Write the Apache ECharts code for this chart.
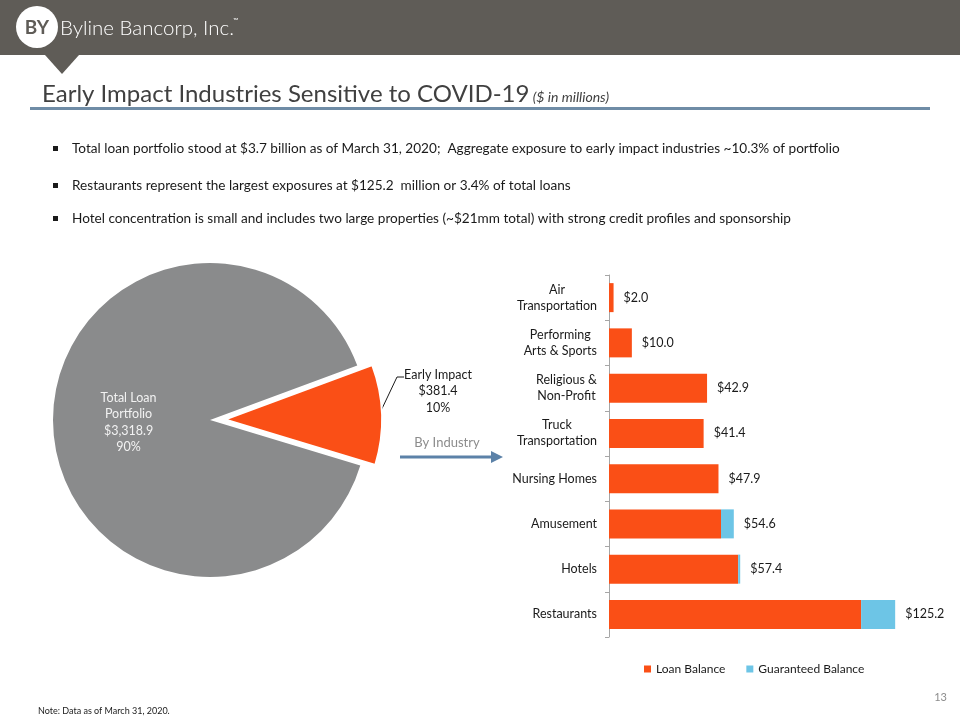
<!DOCTYPE html>
<html>
<head>
<meta charset="utf-8">
<script src="https://cdn.jsdelivr.net/npm/echarts@6/dist/echarts.min.js"></script>
<style>
html,body{margin:0;padding:0;background:#fff;}
#chart{width:960px;height:720px;}
</style>
</head>
<body>
<div id="chart"></div>
<script>
// ---- data ----
const pieNames = ['Early Impact', 'Total Loan Portfolio'];
const pieValues = [381.4, 3318.9];
const pieLabels = ['Early Impact\n$381.4\n10%', 'Total Loan\nPortfolio\n$3,318.9\n90%'];

const categories = ['Air\nTransportation', 'Performing\nArts & Sports', 'Religious &\nNon-Profit',
  'Truck\nTransportation', 'Nursing Homes', 'Amusement', 'Hotels', 'Restaurants'];
const loanBalance = [2.0, 10.0, 42.9, 41.4, 47.9, 49.0, 56.5, 110.3];
const guaranteedBalance = [0, 0, 0, 0, 0, 5.6, 0.9, 14.9];

const bullets = [
  'Total loan portfolio stood at $3.7 billion as of March 31, 2020;  Aggregate exposure to early impact industries ~10.3% of portfolio',
  'Restaurants represent the largest exposures at $125.2  million or 3.4% of total loans',
  'Hotel concentration is small and includes two large properties (~$21mm total) with strong credit profiles and sponsorship'
];

const ORANGE = '#FA4F16';
const BLUE = '#6DC5E6';
const GRAY = '#8A8B8C';
const HEADER = '#5F5C57';
const FONT = 'Lato, "Open Sans", sans-serif';

const chart = echarts.init(document.getElementById('chart'));

const bulletY = [149, 186, 219];
const graphics = [
  {type:'rect', shape:{x:0,y:0,width:960,height:55}, style:{fill:HEADER}},
  {type:'polygon', shape:{points:[[45,55],[79,55],[62,74]]}, style:{fill:HEADER}},
  {type:'circle', shape:{cx:37,cy:27,r:21}, style:{fill:'#fff'}},
  {type:'text', x:37, y:28, style:{text:'BY', fill:HEADER, font:'bold 19px ' + FONT, align:'center', verticalAlign:'middle'}},
  {type:'text', x:60, y:28, style:{text:'Byline Bancorp, Inc.', fill:'#fff', font:'300 20.5px ' + FONT, align:'left', verticalAlign:'middle'}},
  {type:'text', x:233, y:21, style:{text:'™', fill:'#fff', font:'7px ' + FONT, align:'left', verticalAlign:'middle'}},
  {type:'text', x:42, y:94, style:{
    text:'{a|Early Impact Industries Sensitive to COVID-19} {b|($ in millions)}',
    verticalAlign:'middle', align:'left',
    rich:{a:{fontFamily:FONT, fontSize:24, fill:'#404040', verticalAlign:'bottom'},
          b:{fontFamily:FONT, fontSize:14, fontStyle:'italic', fill:'#404040', verticalAlign:'bottom', padding:[0,0,2,0]}}}},
  {type:'rect', shape:{x:30,y:107,width:900,height:3}, style:{fill:'#6F8CA6'}},
  {type:'text', x:447, y:443, style:{text:'By Industry', fill:'#8C8C8C', font:'13px ' + FONT, align:'center', verticalAlign:'middle'}},
  {type:'polyline', shape:{points:[[400,457],[494,457]]}, style:{stroke:'#5C82A8', lineWidth:3}},
  {type:'polygon', shape:{points:[[491,451],[503,457],[491,463]]}, style:{fill:'#5C82A8'}},
  {type:'polyline', shape:{points:[[379,415],[397,377],[404,377]]}, style:{stroke:'#1a1a1a', lineWidth:1, fill:null}},
  {type:'text', x:438, y:391, style:{text:pieLabels[0], fill:'#1a1a1a', font:'12.5px ' + FONT, lineHeight:16.5, align:'center', verticalAlign:'middle'}},
  {type:'text', x:38, y:711, style:{text:'Note: Data as of March 31, 2020.', fill:'#1a1a1a', font:'9px ' + FONT, align:'left', verticalAlign:'middle'}},
  {type:'text', x:947, y:697, style:{text:'13', fill:'#8C8C8C', font:'11px ' + FONT, align:'right', verticalAlign:'middle'}}
];
bullets.forEach((t, i) => {
  graphics.push({type:'rect', shape:{x:53, y:bulletY[i]-3, width:5, height:5}, style:{fill:'#1a1a1a'}});
  graphics.push({type:'text', x:72, y:bulletY[i], style:{text:t, fill:'#1a1a1a', font:'13.6px ' + FONT, align:'left', verticalAlign:'middle'}});
});

const totals = loanBalance.map((v, i) => v + guaranteedBalance[i]);

chart.setOption({
  animation: false,
  textStyle: {fontFamily: FONT},
  graphic: graphics,
  legend: {
    data: ['Loan Balance', 'Guaranteed Balance'],
    left: 644, top: 663, padding: 0, icon: 'rect', itemWidth: 7, itemHeight: 7, itemGap: 21,
    textStyle: {fontSize: 12, color: '#1a1a1a', fontFamily: FONT}
  },
  grid: {left: 609, top: 275, width: 320, height: 362, containLabel: false},
  xAxis: {type: 'value', min: 0, max: 140, show: false},
  yAxis: {
    type: 'category', data: categories, inverse: true,
    axisLine: {show: true, lineStyle: {color: '#A6A6A6', width: 1}},
    axisTick: {show: true, length: 4, lineStyle: {color: '#A6A6A6'}},
    axisLabel: {
      margin: 12, color: '#1a1a1a', fontSize: 12.5, lineHeight: 16, fontFamily: FONT,
      formatter: v => v.split('\n').map(s => '{c|' + s + '}').join('\n'),
      rich: {c: {align: 'center', fontSize: 12.5, lineHeight: 16, color: '#1a1a1a', fontFamily: FONT}}
    }
  },
  series: [
    {
      type: 'pie', name: 'Portfolio', center: [210, 420], radius: 157,
      startAngle: 20.3, clockwise: true, selectedMode: 'single', selectedOffset: 15,
      avoidLabelOverlap: false, silent: true,
      data: [
        {name: pieNames[0], value: pieValues[0], selected: true,
         itemStyle: {color: ORANGE, borderColor: '#fff', borderWidth: 2},
         label: {show: false}, labelLine: {show: false}},
        {name: pieNames[1], value: pieValues[1],
         itemStyle: {color: GRAY},
         label: {show: true, position: 'inside', formatter: pieLabels[1], color: '#F2F2F2', fontSize: 12.5, lineHeight: 16.5, align: 'center'},
         labelLine: {show: false}}
      ]
    },
    {
      type: 'bar', name: 'Loan Balance', stack: 'total', data: loanBalance,
      barWidth: 29, itemStyle: {color: ORANGE}
    },
    {
      type: 'bar', name: 'Guaranteed Balance', stack: 'total', data: guaranteedBalance,
      barWidth: 29, itemStyle: {color: BLUE},
      label: {show: true, position: 'right', distance: 10, color: '#1a1a1a', fontSize: 12.5, fontFamily: FONT,
              formatter: p => '$' + totals[p.dataIndex].toFixed(1)}
    }
  ]
});
</script>
</body>
</html>
